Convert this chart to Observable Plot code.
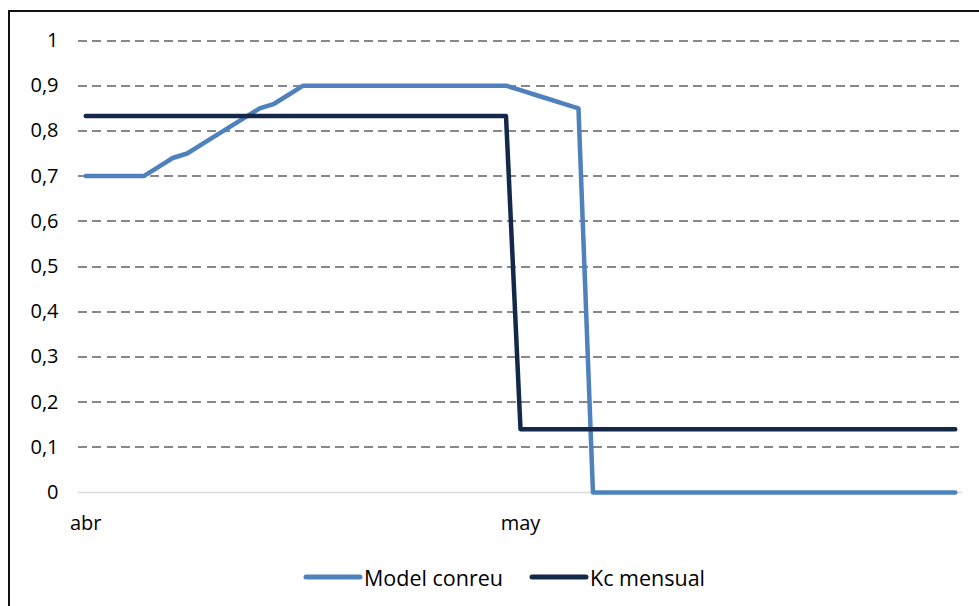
<!DOCTYPE html>
<html>
<head>
<meta charset="utf-8">
<script src="https://cdn.jsdelivr.net/npm/d3@7"></script>
<script src="https://cdn.jsdelivr.net/npm/@observablehq/plot@0.6"></script>
<style>
  html, body { margin: 0; padding: 0; width: 979px; height: 606px; overflow: hidden; background: #fff; font-family: "Open Sans", sans-serif; }
  #frame { position: absolute; left: 8px; top: 10px; width: 1000px; height: 620px; border: 2px solid #111; box-sizing: border-box; }
  #chart { position: absolute; left: 0; top: 0; }
  #legend { position: absolute; left: 0; top: 562px; width: 979px; height: 30px; font-size: 21.5px; color: #000; white-space: nowrap; }
  #legend .item { position: absolute; top: 0; display: flex; align-items: center; height: 30px; }
  #legend svg { display: block; }
</style>
</head>
<body>
<div id="frame"></div>
<div id="chart"></div>
<div id="legend"></div>
<script>
// ---- data ----
const startDate = "2020-04-01";
const dayCount = 61; // 1 April .. 31 May
const seriesNames = ["Model conreu", "Kc mensual"];
const seriesColors = ["#4f81bd", "#14294a"];
const modelConreu = [
  0.70, 0.70, 0.70, 0.70, 0.70, 0.72, 0.74, 0.75, 0.77, 0.79,
  0.81, 0.83, 0.85, 0.86, 0.88, 0.90, 0.90, 0.90, 0.90, 0.90,
  0.90, 0.90, 0.90, 0.90, 0.90, 0.90, 0.90, 0.90, 0.90, 0.90,
  0.89, 0.88, 0.87, 0.86, 0.85, 0, 0, 0, 0, 0,
  0, 0, 0, 0, 0, 0, 0, 0, 0, 0,
  0, 0, 0, 0, 0, 0, 0, 0, 0, 0,
  0
];
const kcMensual = [
  0.833, 0.833, 0.833, 0.833, 0.833, 0.833, 0.833, 0.833, 0.833, 0.833,
  0.833, 0.833, 0.833, 0.833, 0.833, 0.833, 0.833, 0.833, 0.833, 0.833,
  0.833, 0.833, 0.833, 0.833, 0.833, 0.833, 0.833, 0.833, 0.833, 0.833,
  0.14, 0.14, 0.14, 0.14, 0.14, 0.14, 0.14, 0.14, 0.14, 0.14,
  0.14, 0.14, 0.14, 0.14, 0.14, 0.14, 0.14, 0.14, 0.14, 0.14,
  0.14, 0.14, 0.14, 0.14, 0.14, 0.14, 0.14, 0.14, 0.14, 0.14,
  0.14
];
const xTickDates = ["2020-04-01", "2020-05-01"];
const xTickLabels = ["abr", "may"];
const yTicks = [0, 0.1, 0.2, 0.3, 0.4, 0.5, 0.6, 0.7, 0.8, 0.9, 1];

// ---- build table ----
const start = new Date(startDate + "T00:00:00Z");
const dates = d3.range(dayCount).map(i => d3.utcDay.offset(start, i));
const rows = [];
[modelConreu, kcMensual].forEach((vals, s) => {
  vals.forEach((v, i) => rows.push({date: dates[i], value: v, series: seriesNames[s]}));
});
const tickDates = xTickDates.map(d => new Date(d + "T00:00:00Z"));
const labelFor = new Map(tickDates.map((d, i) => [+d, xTickLabels[i]]));
const halfDay = 12 * 3600 * 1000;
const fmtY = d3.format(".1~f");

const plot = Plot.plot({
  width: 979,
  height: 537,
  marginLeft: 78,
  marginRight: 17,
  marginTop: 40,
  marginBottom: 45,
  style: {fontFamily: "Open Sans, sans-serif", fontSize: "20px", color: "#000", background: "transparent"},
  x: {type: "utc", domain: [new Date(+dates[0] - halfDay), new Date(+dates[dates.length - 1] + halfDay)]},
  y: {domain: [0, 1]},
  color: {domain: seriesNames, range: seriesColors},
  marks: [
    Plot.ruleY(yTicks.filter(d => d > 0), {stroke: "#888888", strokeWidth: 2, strokeDasharray: "9,5.3", shapeRendering: "crispEdges"}),
    Plot.ruleY([0], {stroke: "#d9d9d9", strokeWidth: 1.5}),
    Plot.axisY({ticks: yTicks, tickFormat: d => fmtY(d).replace(".", ","), tickSize: 0, tickPadding: 20, label: null}),
    Plot.axisX({ticks: tickDates, tickFormat: d => labelFor.get(+d), tickSize: 0, tickPadding: 23, label: null}),
    Plot.lineY(rows, {x: "date", y: "value", z: "series", stroke: "series", strokeWidth: 4.5, strokeLinejoin: "round", strokeLinecap: "round"})
  ]
});
document.getElementById("chart").appendChild(plot);

// ---- legend ----
const legend = d3.select("#legend");
const legendLefts = [303, 529];
seriesNames.forEach((name, i) => {
  const item = legend.append("div").attr("class", "item").style("left", legendLefts[i] + "px");
  const sw = item.append("svg").attr("width", 60).attr("height", 10);
  sw.append("line").attr("x1", 3).attr("x2", 57).attr("y1", 5).attr("y2", 5)
    .attr("stroke", seriesColors[i]).attr("stroke-width", 5).attr("stroke-linecap", "round");
  item.append("span").style("margin-left", "1px").text(name);
});
</script>
</body>
</html>
